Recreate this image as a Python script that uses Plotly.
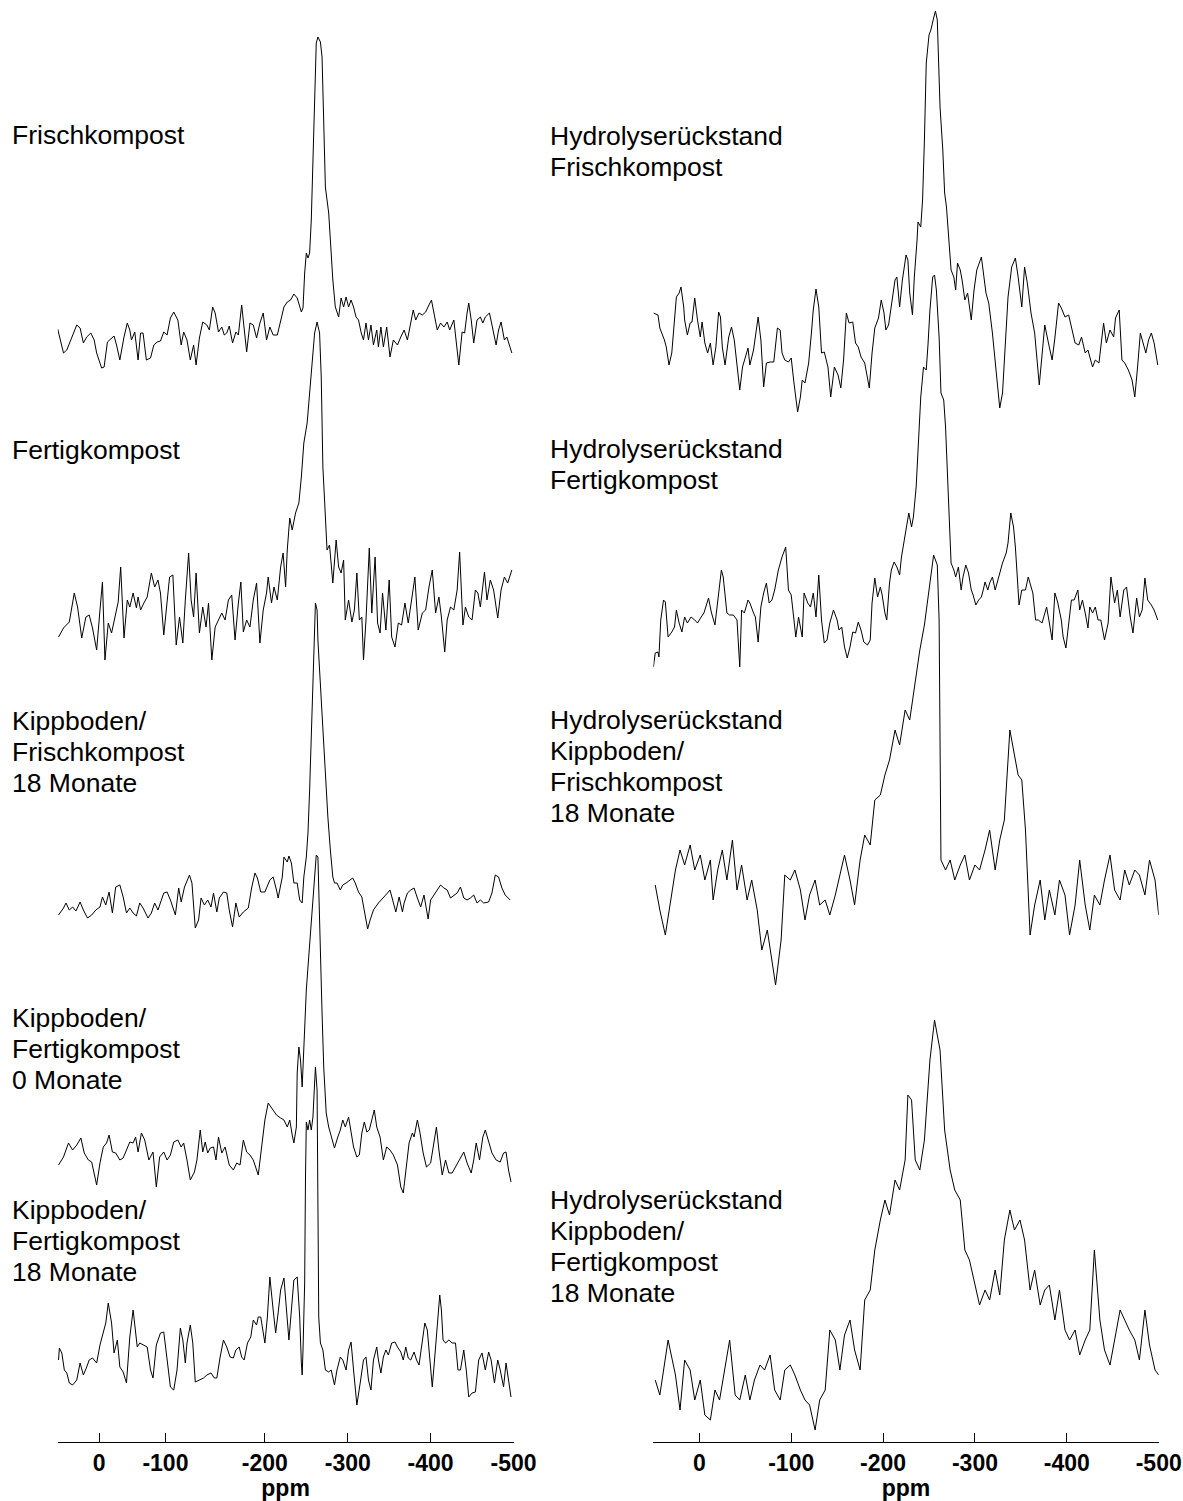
import plotly.graph_objects as go

# ---------------- data: chemical shift (ppm) and signal intensity (arb. units) ----------------
# Left column
L1_ppm = [50, 43, 39, 33, 27, 23, 19, 15, 10, 6, 3, -3, -6, -10, -13, -18, -21, -25, -30, -34,
          -37, -39, -43, -47, -50, -53, -57, -62, -66, -70, -74, -78, -82, -86, -90, -95, -99, -102, -106, -110,
          -114, -117, -121, -125, -130, -133, -137, -140, -144, -148, -151, -154, -157, -161, -165, -168, -172, -175, -178, -182,
          -186, -190, -194, -198, -202, -206, -210, -215, -218, -223, -227, -231, -235, -239, -244, -246, -248, -250, -252, -254,
          -256, -258, -260, -262, -264, -267, -269, -271, -273, -275, -277, -280, -282, -285, -289, -292, -295, -298, -301, -304,
          -307, -310, -313, -316, -319, -322, -325, -328, -331, -335, -337, -340, -343, -347, -351, -355, -360, -364, -368, -372,
          -376, -379, -382, -386, -390, -394, -398, -401, -404, -408, -412, -416, -420, -423, -428, -431, -434, -438, -441, -444,
          -446, -449, -452, -456, -460, -463, -466, -471, -475, -479, -482, -485, -489, -492, -498]
L1_int = [31, 7, 10, 22, 35, 32, 17, 23, 27, 20, 7, -8, -7, 18, 20, 24, 15, 0, 23, 37,
          30, 20, 28, 0, 27, 27, 0, 2, 15, 18, 19, 28, 25, 42, 48, 40, 15, 28, 20, 0,
          15, -5, 22, 38, 35, 30, 53, 47, 28, 33, 25, 27, 34, 17, 28, 25, 55, 33, 8, 37,
          35, 22, 37, 47, 20, 33, 25, 25, 35, 53, 58, 60, 66, 62, 48, 52, 87, 107, 102, 107,
          140, 207, 273, 317, 323, 318, 303, 240, 173, 160, 147, 107, 80, 53, 43, 62, 53, 63, 53, 60,
          53, 43, 40, 28, 20, 37, 20, 35, 15, 30, 13, 33, 13, 33, 3, 20, 15, 23, 30, 20,
          37, 50, 40, 47, 45, 48, 55, 60, 47, 30, 37, 33, 38, 30, 40, 20, -5, 28, 27, 47,
          57, 40, 17, 40, 43, 37, 43, 47, 30, 15, 30, 38, 20, 23, 7]

L2_ppm = [49, 43, 36, 30, 26, 21, 16, 12, 8, 3, -1, -4, -7, -11, -15, -19, -23, -26, -30, -34,
          -37, -41, -45, -47, -50, -54, -58, -63, -67, -71, -74, -78, -82, -85, -89, -93, -97, -101, -104, -108,
          -111, -114, -117, -121, -125, -129, -132, -136, -140, -144, -148, -152, -156, -160, -164, -168, -171, -174, -178, -182,
          -186, -190, -194, -198, -202, -204, -208, -211, -215, -219, -222, -225, -227, -230, -233, -237, -241, -244, -247, -251,
          -254, -257, -260, -263, -266, -268, -269, -270, -272, -273, -275, -278, -282, -286, -289, -292, -295, -297, -301, -305,
          -308, -311, -314, -317, -319, -322, -326, -329, -333, -336, -339, -342, -346, -350, -353, -357, -361, -365, -369, -373,
          -377, -381, -385, -390, -394, -398, -402, -406, -410, -413, -417, -420, -424, -428, -432, -435, -439, -442, -446, -450,
          -454, -457, -460, -465, -468, -472, -476, -481, -485, -489, -493, -498]
L2_int = [3, 12, 18, 47, 33, 2, 23, 25, 12, -10, 30, 58, -20, 17, 7, 23, 38, 73, 2, 40,
          33, 47, 32, 43, 30, 37, 43, 67, 53, 60, 47, 5, 40, 63, 65, -5, 23, -3, 40, 87,
          40, 23, 67, 7, 33, 13, 37, -20, 13, 20, 27, 20, 40, 45, 0, 37, 58, 8, 20, 13,
          40, 57, -3, 30, 47, 63, 37, 53, 40, 73, 87, 53, 90, 122, 110, 127, 137, 163, 197, 217,
          247, 273, 307, 318, 307, 263, 213, 173, 140, 127, 90, 95, 57, 100, 73, 67, 80, 20, 40, 18,
          30, 67, 20, 23, -20, 20, 92, 27, 83, 17, 7, 47, 10, 60, 3, -7, 17, 15, 37, 17,
          40, 63, 10, 27, 30, 53, 70, 27, 43, 23, -12, 20, 33, 30, 50, 88, 15, 33, 23, 20,
          50, 47, 33, 68, 40, 60, 50, 22, 50, 63, 57, 70]

L3_ppm = [49, 43, 40, 36, 32, 28, 23, 19, 14, 9, 4, -1, -4, -8, -12, -16, -20, -25, -29, -33,
          -37, -41, -45, -49, -53, -59, -63, -67, -71, -78, -82, -86, -92, -96, -99, -103, -109, -112, -116, -120,
          -123, -127, -131, -135, -138, -142, -145, -150, -154, -157, -161, -165, -169, -174, -180, -184, -188, -191, -195, -200,
          -206, -210, -214, -216, -221, -223, -227, -229, -232, -235, -239, -242, -245, -247, -250,
          -252, -254, -256, -258, -260, -261, -263, -264, -266, -268, -270, -273, -276, -279, -282, -284,
          -287, -291, -294, -298, -302, -306, -309, -313, -317,
          -321, -324, -327, -331, -337, -343, -348, -351, -354, -358, -362, -366, -368, -372, -376, -380, -384, -388, -392, -397,
          -400, -404, -408, -412, -416, -420, -424, -428, -432, -436, -440, -444, -448, -452, -456, -460, -464, -470, -474, -478,
          -482, -486, -490, -496]
L3_int = [5, 12, 17, 10, 13, 9, 18, 10, 2, 5, 10, 13, 23, 15, 28, 7, 33, 35, 23, 7,
          12, 7, 4, 17, 12, 2, 7, 17, 10, 27, 28, 20, 5, 32, 18, 33, 45, 37, -8, 0,
          22, 15, 20, 13, 27, 8, 22, 28, 27, 10, -7, 17, 3, 8, 12, 32, 47, 42, 28, 28,
          40, 43, 30, 22, 43, 63, 58, 64, 57, 37, 37, 20, 17, 43, 63,
          87, 130, 180, 247, 297, 317, 310, 280, 250, 220, 180, 137, 103, 70, 43, 37,
          37, 30, 35, 37, 40, 42, 37, 28, 23,
          3, -9, 0, 10, 17, 22, 27, 30, 20, 8, 23, 8, 17, 27, 30, 32, 22, 13, 25, 1,
          20, 25, 31, 35, 32, 30, 22, 25, 27, 33, 22, 20, 22, 25, 17, 20, 17, 18, 27, 45,
          43, 32, 25, 20]

L4_ppm = [49, 43, 37, 32, 27, 22, 18, 13, 9, 3, -1, -5, -9, -12, -16, -20, -25, -29, -34, -37,
          -41, -44, -47, -51, -55, -60, -65, -69, -73, -78, -82, -86, -90, -95, -99, -102, -106, -110, -115, -118,
          -122, -125, -128, -131, -134, -138, -141, -144, -148, -152, -157, -162, -166, -170, -174, -178, -182, -186, -192, -196,
          -200, -204, -210, -214, -219, -223, -227, -230, -233, -235, -238, -239, -241, -243, -245, -247, -250, -252, -255, -259,
          -262, -264, -265, -267, -269, -271, -274, -277, -281, -284, -288, -291, -294, -297, -301, -304, -307, -311, -314, -317,
          -320, -323, -326, -329, -332, -335, -339, -343, -347, -351, -355, -360, -364, -367, -370, -374, -378, -380, -384, -387,
          -391, -395, -400, -404, -407, -410, -414, -418, -422, -426, -430, -434, -440, -444, -449, -452, -455, -459, -463, -466,
          -470, -474, -479, -484, -488, -491, -494, -497]
L4_int = [25, 33, 47, 40, 45, 52, 37, 30, 28, 5, 27, 43, 47, 55, 38, 37, 30, 32, 42, 48,
          47, 53, 38, 57, 50, 30, 38, 3, 33, 38, 30, 35, 48, 50, 43, 47, 30, 10, 18, 30,
          60, 38, 48, 37, 42, 43, 30, 53, 37, 43, 25, 20, 27, 25, 50, 38, 35, 30, 15, 43,
          70, 87, 80, 75, 72, 70, 63, 70, 55, 47, 63, 117, 143, 130, 103, 143, 200, 223, 257, 300,
          335, 333, 297, 233, 177, 123, 77, 63, 50, 42, 53, 60, 70, 63, 73, 57, 43, 33, 35, 57,
          68, 58, 60, 70, 80, 63, 53, 30, 43, 40, 35, 25, 3, -3, 17, 47, 57, 53, 70, 58,
          37, 23, 27, 50, 63, 40, 15, 30, 17, 17, 23, 30, 38, 27, 17, 30, 47, 30, 53, 60,
          48, 37, 30, 28, 37, 38, 20, 8]

L5_ppm = [49, 48, 45, 42, 39, 36, 32, 27, 23, 19, 15, 12, 8, 3, -1, -5, -8, -11, -15, -18,
          -22, -25, -29, -33, -37, -41, -43, -46, -49, -53, -58, -62, -65, -69, -74, -78, -82, -86, -90, -94,
          -98, -101, -104, -106, -110, -113, -116, -121, -126, -130, -135, -139, -142, -146, -150, -154, -158, -162, -165, -169,
          -172, -175, -179, -183, -186, -190, -192, -195, -198, -200, -203, -206, -210, -213, -216, -219, -223, -226, -229, -232,
          -235, -239, -242, -244, -245, -246, -248, -249, -250, -252, -254, -256, -258, -260, -261, -263, -264, -265, -267, -270,
          -273, -277, -280, -284, -287, -291, -294, -298, -301, -304, -307, -311, -315, -319, -322, -325, -328, -331, -335, -337,
          -340, -343, -346, -349, -353, -357, -360, -364, -367, -370, -373, -376, -380, -383, -386, -390, -393, -396, -399, -402,
          -405, -408, -411, -413, -415, -418, -422, -426, -430, -433, -436, -440, -443, -446, -450, -454, -458, -462, -466, -470,
          -473, -477, -481, -484, -488, -491, -494, -497]
L5_int = [60, 72, 67, 50, 47, 37, 35, 40, 57, 45, 53, 60, 62, 57, 75, 88, 97, 117, 97, 67,
          80, 53, 48, 37, 83, 110, 93, 73, 77, 75, 73, 50, 42, 75, 87, 88, 63, 33, 30, 50,
          92, 80, 57, 77, 95, 77, 38, 40, 42, 45, 47, 42, 42, 63, 80, 73, 63, 62, 70, 73,
          63, 60, 77, 83, 100, 95, 103, 103, 88, 77, 103, 143, 110, 87, 107, 130, 142, 110, 80, 110,
          140, 143, 103, 57, 45, 70, 137, 243, 298, 290, 300, 290, 303, 337, 353, 330, 227, 103, 77, 70,
          50, 48, 50, 35, 50, 63, 60, 50, 70, 78, 50, 15, 37, 60, 63, 40, 30, 60, 73, 60,
          47, 63, 70, 65, 77, 78, 73, 68, 60, 73, 62, 60, 68, 60, 55, 77, 97, 90, 57, 33,
          63, 93, 125, 110, 80, 77, 80, 77, 77, 50, 50, 70, 50, 23, 27, 28, 60, 67, 50, 68,
          60, 37, 60, 50, 33, 57, 37, 23]

# Right column (Hydrolyserückstand)
R1_ppm = [50, 45, 43, 38, 36, 33, 30, 27, 25, 22, 20, 17, 16, 13, 10, 8, 5, 2, -1, -3,
          -6, -9, -12, -15, -18, -21, -23, -25, -28, -32, -35, -38, -41, -44, -47, -50, -53, -55, -59, -64,
          -67, -70, -73, -77, -81, -85, -88, -90, -93, -97, -100, -103, -107, -110, -112, -115, -119, -122, -124, -127,
          -130, -133, -136, -140, -143, -147, -151, -154, -157, -160, -163, -167, -170, -173, -176, -180, -185, -188, -191, -195,
          -198, -201, -203, -206, -209, -213, -215, -218, -221, -225, -227, -229, -232, -234, -237, -238, -241, -243, -245, -247,
          -250, -252, -255, -257, -259, -260, -262, -265, -267, -269, -271, -274, -277, -279, -281, -284, -286, -289, -292, -296,
          -299, -302, -307, -312, -315, -319, -324, -327, -330, -333, -336, -340, -344, -347, -351, -354, -357, -361, -365, -370,
          -373, -376, -380, -384, -387, -391, -394, -398, -402, -406, -409, -413, -416, -420, -423, -428, -431, -435, -440, -443,
          -447, -451, -453, -457, -460, -463, -467, -471, -474, -477, -480, -483, -486, -489, -492, -495, -499]
R1_int = [107, 105, 92, 80, 73, 55, 67, 97, 123, 127, 133, 113, 100, 85, 97, 98, 122, 100, 83, 98,
          77, 67, 77, 55, 73, 108, 103, 73, 55, 83, 93, 80, 53, 30, 53, 63, 72, 55, 70, 103,
          80, 33, 57, 58, 58, 92, 90, 67, 60, 58, 62, 37, 8, 23, 40, 37, 57, 87, 110, 131,
          113, 67, 68, 53, 23, 53, 45, 32, 60, 107, 97, 98, 77, 73, 63, 57, 32, 67, 92, 102,
          120, 107, 90, 95, 113, 140, 143, 113, 140, 165, 160, 127, 105, 143, 180, 198, 193, 220, 280, 357,
          385, 390, 402, 409, 400, 370, 313, 270, 227, 213, 187, 150, 143, 130, 157, 150, 140, 120, 127, 100,
          130, 150, 163, 127, 117, 87, 40, 12, 27, 72, 123, 153, 162, 143, 113, 153, 137, 107, 87, 35,
          63, 95, 77, 60, 82, 117, 112, 103, 105, 90, 77, 75, 83, 67, 70, 53, 60, 57, 97, 77,
          90, 83, 102, 110, 60, 57, 50, 40, 23, 53, 87, 77, 67, 80, 87, 77, 55]

R2_ppm = [50, 48, 45, 44, 42, 39, 37, 34, 30, 27, 25, 22, 19, 16, 13, 9, 5, 2, -2, -5,
          -10, -13, -17, -21, -24, -26, -30, -33, -37, -41, -44, -46, -49, -53, -55, -59, -61, -64, -67, -70,
          -73, -76, -79, -82, -86, -90, -94, -97, -100, -103, -105, -108, -112, -114, -118, -121, -124, -127, -130, -133,
          -136, -139, -142, -146, -150, -152, -155, -158, -161, -164, -167, -170, -173, -176, -179, -183, -186, -188, -191, -194,
          -197, -199, -202, -204, -207, -209, -212, -215, -218, -220, -223, -226, -228, -231, -233, -236, -239, -241, -244, -247,
          -249, -251, -254, -256, -258, -261, -263, -266, -268, -270, -272, -274, -277, -279, -282, -285, -287, -290, -293, -296,
          -298, -301, -304, -307, -309, -311, -314, -316, -319, -322, -325, -327, -330, -334, -336, -339, -342, -344, -346, -348,
          -351, -355, -358, -360, -363, -366, -369, -373, -376, -378, -381, -384, -387, -390, -394, -396, -399, -402, -405, -408,
          -412, -414, -417, -420, -423, -425, -428, -431, -434, -437, -441, -445, -448, -452, -455, -458, -462, -465, -469, -472,
          -476, -479, -482, -485, -488, -492, -495, -499]
R2_int = [13, 27, 28, 23, 60, 80, 78, 43, 48, 53, 70, 57, 48, 63, 57, 63, 60, 57, 63, 67,
          82, 68, 55, 90, 110, 103, 67, 65, 65, 60, 13, 70, 67, 80, 77, 67, 63, 38, 73, 87,
          97, 77, 80, 90, 110, 123, 133, 90, 85, 60, 43, 63, 43, 87, 77, 73, 87, 63, 105, 60,
          37, 40, 57, 70, 60, 50, 53, 33, 22, 33, 48, 47, 58, 50, 38, 35, 40, 77, 102, 83,
          93, 85, 67, 60, 97, 110, 118, 113, 105, 123, 140, 153, 167, 153, 163, 193, 243, 283, 313, 310,
          337, 370, 403, 405, 390, 343, 287, 280, 253, 210, 153, 117, 110, 103, 113, 90, 103, 115, 107, 90,
          85, 75, 80, 83, 90, 98, 90, 97, 103, 90, 100, 107, 117, 127, 137, 167, 153, 133, 103, 75,
          90, 90, 103, 97, 87, 60, 60, 57, 67, 73, 57, 40, 87, 78, 60, 43, 32, 57, 80, 80,
          90, 70, 80, 67, 52, 73, 67, 73, 60, 60, 40, 57, 103, 77, 90, 63, 90, 93, 63, 47,
          82, 63, 70, 102, 80, 75, 70, 60]

R3_ppm = [48, 43, 37, 32, 26, 21, 16, 10, 5, -1, -6, -12, -15, -20, -25, -30, -36, -41, -46, -52,
          -57, -63, -68, -74, -79, -83, -89, -93, -99, -104, -110, -115, -120, -126, -131, -137, -142, -148, -153, -158,
          -164, -169, -175, -180, -186, -191, -197, -202, -207, -213, -218, -224, -229, -235, -240, -245, -251, -255, -259, -261,
          -263, -268, -273, -278, -284, -289, -294, -300, -305, -311, -316, -322, -327, -332, -338, -342, -347, -351, -355, -360,
          -365, -371, -376, -381, -387, -392, -398, -403, -409, -414, -420, -425, -430, -436, -441, -447, -452, -458, -463, -468,
          -474, -479, -485, -490, -496, -500]
R3_int = [115, 90, 65, 95, 130, 150, 135, 155, 130, 145, 120, 140, 100, 130, 150, 120, 160, 110, 135, 100,
          120, 90, 50, 70, 40, 15, 60, 125, 120, 130, 110, 80, 105, 120, 95, 100, 85, 105, 125, 145,
          120, 95, 140, 165, 155, 200, 205, 225, 240, 270, 255, 290, 280, 320, 350, 375, 415, 445, 435, 380,
          140, 130, 140, 120, 135, 145, 120, 135, 130, 150, 170, 130, 160, 180, 270, 250, 225, 220, 170, 65,
          95, 120, 80, 110, 85, 120, 105, 65, 95, 140, 95, 70, 105, 95, 120, 145, 110, 100, 130, 115,
          130, 125, 105, 140, 120, 85]

R4_ppm = [48, 43, 34, 26, 21, 16, 10, 5, -1, -6, -12, -17, -22, -28, -33, -39, -44, -50, -55, -60,
          -66, -71, -77, -82, -88, -93, -99, -104, -110, -115, -120, -126, -131, -137, -142, -148, -153, -158, -164, -169,
          -175, -180, -186, -191, -197, -202, -207, -213, -218, -224, -227, -231, -235, -240, -245, -251, -256, -262, -267, -273,
          -278, -284, -289, -294, -300, -305, -311, -316, -322, -327, -332, -338, -343, -349, -354, -360, -365, -371, -376, -381,
          -387, -392, -398, -403, -409, -414, -420, -425, -430, -436, -441, -447, -452, -458, -463, -468, -474, -479, -485, -490,
          -496, -500]
R4_int = [70, 55, 110, 75, 40, 90, 80, 50, 70, 35, 30, 60, 50, 85, 110, 55, 50, 75, 50, 70,
          85, 80, 95, 60, 50, 80, 85, 75, 60, 50, 45, 20, 50, 60, 120, 110, 80, 115, 130, 100,
          80, 150, 160, 200, 230, 250, 235, 270, 260, 290, 355, 350, 290, 280, 310, 390, 430, 400, 320, 280,
          260, 250, 200, 190, 165, 145, 160, 150, 180, 155, 210, 240, 220, 230, 210, 160, 180, 145, 160, 165,
          130, 160, 120, 110, 120, 95, 110, 120, 200, 130, 100, 85, 110, 140, 130, 120, 110, 90, 140, 105,
          80, 75]

# Tick labels
LEFT_TICKVALS = [50, 0, -80, -200, -300, -400, -500]
LEFT_TICKTEXT = ["", "0", "-100", "-200", "-300", "-400", "-500"]
RIGHT_TICKVALS = [50, 0, -100, -200, -300, -400, -500]
RIGHT_TICKTEXT = ["", "0", "-100", "-200", "-300", "-400", "-500"]

# Sample labels
LABELS_LEFT = [["Frischkompost"], ["Fertigkompost"],
               ["Kippboden/", "Frischkompost", "18 Monate"],
               ["Kippboden/", "Fertigkompost", "0 Monate"],
               ["Kippboden/", "Fertigkompost", "18 Monate"]]
LABELS_RIGHT = [["Hydrolyserückstand", "Frischkompost"],
                ["Hydrolyserückstand", "Fertigkompost"],
                ["Hydrolyserückstand", "Kippboden/", "Frischkompost", "18 Monate"],
                ["Hydrolyserückstand", "Kippboden/", "Fertigkompost", "18 Monate"]]

# ---------------- layout constants ----------------
W, H = 1183, 1501
AXIS_ROW = 1442            # pixel row of the x axis line
FONT = "Arial, Liberation Sans, Helvetica, sans-serif"

# stacking: pixel row of each spectrum's zero level
BASE_LEFT = [360, 640, 920, 1190, 1420]
BASE_RIGHT = [420, 680, 1000, 1450]
# first-line row of each label and line spacing
LABEL_ROWS_LEFT = [135, 450, 721, 1018, 1210]
LABEL_ROWS_RIGHT = [136, 449, 720, 1200]
LINE_STEP = 31
LABEL_X_LEFT = 10
LABEL_X_RIGHT = 548
LABEL_SIZE = 26.5

left_data = [(L1_ppm, L1_int), (L2_ppm, L2_int), (L3_ppm, L3_int), (L4_ppm, L4_int), (L5_ppm, L5_int)]
right_data = [(R1_ppm, R1_int), (R2_ppm, R2_int), (R3_ppm, R3_int), (R4_ppm, R4_int)]

fig = go.Figure()


def add_spectrum(ppm, inten, base_row, xaxis):
    n = min(len(ppm), len(inten))
    off = AXIS_ROW - base_row
    fig.add_trace(go.Scatter(x=ppm[:n], y=[off + v for v in inten[:n]], mode="lines",
                             line=dict(color="black", width=1), xaxis=xaxis, yaxis="y",
                             hoverinfo="skip", showlegend=False))


for (p, i), b in zip(left_data, BASE_LEFT):
    add_spectrum(p, i, b, "x")
for (p, i), b in zip(right_data, BASE_RIGHT):
    add_spectrum(p, i, b, "x2")


def add_label(lines, row0, xpx):
    for k, t in enumerate(lines):
        fig.add_annotation(x=xpx / W, xref="paper", y=AXIS_ROW - (row0 + k * LINE_STEP), yref="y",
                           text=t, showarrow=False, xanchor="left", yanchor="middle",
                           font=dict(family=FONT, size=LABEL_SIZE, color="black"))


for lines, r in zip(LABELS_LEFT, LABEL_ROWS_LEFT):
    add_label(lines, r, LABEL_X_LEFT)
for lines, r in zip(LABELS_RIGHT, LABEL_ROWS_RIGHT):
    add_label(lines, r, LABEL_X_RIGHT)

axis_common = dict(range=[50, -500], showgrid=False, zeroline=False, showline=True,
                   linecolor="black", linewidth=1, ticks="inside", ticklen=9, tickwidth=1,
                   tickcolor="black", tickfont=dict(family=FONT, size=23, color="black", weight=700),
                   ticklabelstandoff=0, fixedrange=True, automargin=False,
                   title=dict(text="ppm", font=dict(family=FONT, size=23, color="black", weight=700),
                              standoff=2))

fig.update_layout(
    width=W, height=H,
    margin=dict(l=0, r=0, t=0, b=H - AXIS_ROW, pad=0, autoexpand=False),
    paper_bgcolor="white", plot_bgcolor="white",
    showlegend=False,
    xaxis=dict(domain=[57.7 / W, 513.5 / W], anchor="y", tickvals=LEFT_TICKVALS,
               ticktext=LEFT_TICKTEXT, **axis_common),
    xaxis2=dict(domain=[653.4 / W, 1158.7 / W], anchor="y", tickvals=RIGHT_TICKVALS,
                ticktext=RIGHT_TICKTEXT, **axis_common),
    yaxis=dict(range=[0, AXIS_ROW], visible=False, fixedrange=True, automargin=False),
)

fig.write_html("out.html")
